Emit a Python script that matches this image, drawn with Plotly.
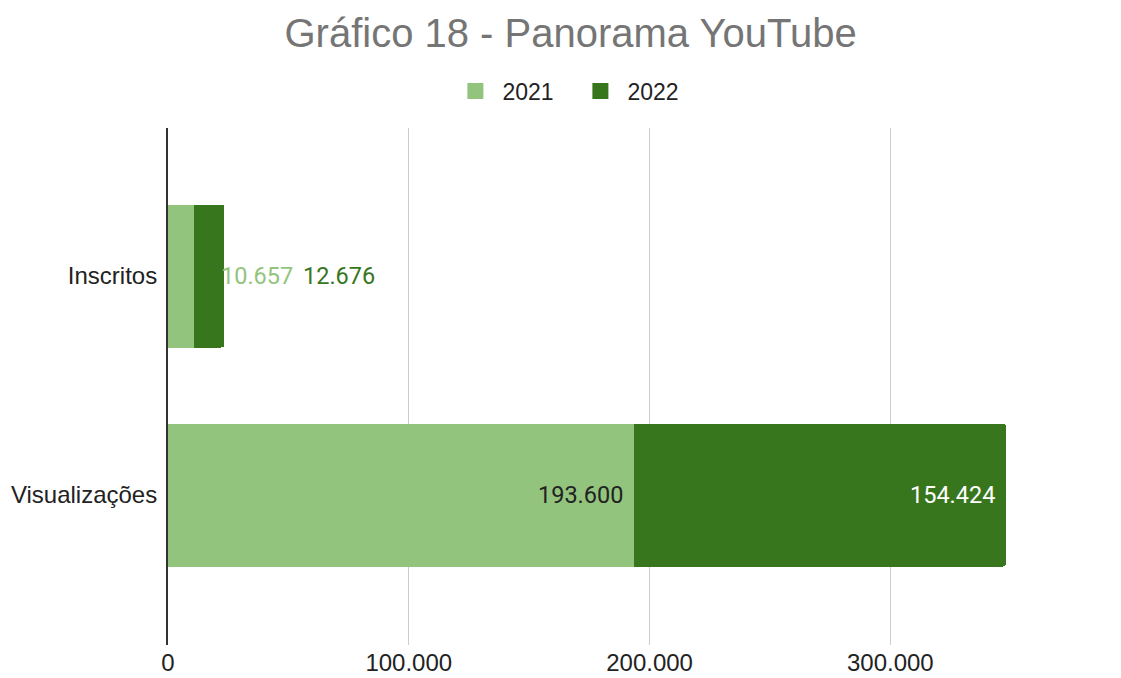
import plotly.graph_objects as go

categories = ["Inscritos", "Visualizações"]
years = ["2021", "2022"]
values_2021 = [10657, 193600]
values_2022 = [12676, 154424]
x_tick_vals = [0, 100000, 200000, 300000]
x_tick_text = ["0", "100.000", "200.000", "300.000"]

c2021 = "#93c47d"
c2022 = "#38761d"
LABEL_FONT = "Roboto"
AXIS_FONT = "Liberation Sans, Arial"

def fmt(v):
    return f"{v:,}".replace(",", ".")

fig = go.Figure()
fig.add_trace(go.Bar(y=categories, x=values_2021, name=years[0], orientation="h",
                     marker=dict(color=c2021, line=dict(width=0)), hoverinfo="skip",
                     showlegend=False))
fig.add_trace(go.Bar(y=categories, x=values_2022, name=years[1], orientation="h",
                     marker=dict(color=c2022, line=dict(width=0)), hoverinfo="skip",
                     showlegend=False))
# legend entries with larger square swatches
for name, col in zip(years, [c2021, c2022]):
    fig.add_trace(go.Scatter(x=[None], y=[None], mode="markers", name=name,
                             marker=dict(symbol="square", size=22, color=col),
                             hoverinfo="skip"))

annotations = []
tot0 = values_2021[0] + values_2022[0]
annotations.append(dict(x=tot0, y=categories[0], text=fmt(values_2021[0]), showarrow=False,
                        xanchor="left", xshift=-5, font=dict(color=c2021, size=23.5, family=LABEL_FONT)))
annotations.append(dict(x=tot0, y=categories[0], text=fmt(values_2022[0]), showarrow=False,
                        xanchor="left", xshift=77, font=dict(color=c2022, size=23.5, family=LABEL_FONT)))
annotations.append(dict(x=values_2021[1], y=categories[1], text=fmt(values_2021[1]), showarrow=False,
                        xanchor="right", xshift=-9, font=dict(color="#222222", size=23.5, family=LABEL_FONT)))
annotations.append(dict(x=values_2021[1] + values_2022[1], y=categories[1], text=fmt(values_2022[1]),
                        showarrow=False, xanchor="right", xshift=-9,
                        font=dict(color="#ffffff", size=23.5, family=LABEL_FONT)))

fig.update_layout(
    barmode="stack",
    bargap=0.347,
    barcornerradius=3,
    width=1121, height=678,
    margin=dict(l=168, r=26, t=128, b=33),
    paper_bgcolor="white", plot_bgcolor="white",
    font=dict(family=AXIS_FONT, size=24, color="#222222"),
    separators=",.",
    title=dict(text="Gráfico 18 - Panorama YouTube", x=0.509, xref="container", xanchor="center",
               y=1 - 33 / 678, yref="container", yanchor="middle",
               font=dict(family=AXIS_FONT, size=40, color="#757575")),
    legend=dict(orientation="h", xref="container", yref="container", x=0.5115, xanchor="center",
                y=1 - 91 / 678, yanchor="middle", font=dict(family=AXIS_FONT, size=23, color="#222222"),
                traceorder="normal", itemwidth=44, entrywidth=66),
    annotations=annotations,
    showlegend=True,
)
fig.update_xaxes(range=[0, 385000], tickvals=x_tick_vals, ticktext=x_tick_text,
                 showgrid=True, gridcolor="#cccccc", gridwidth=1, zeroline=False,
                 showline=False, ticks="", automargin=False, ticklabelstandoff=1,
                 tickfont=dict(family=AXIS_FONT, size=24, color="#222222"))
fig.update_yaxes(autorange=False, range=[1.685, -0.676], showline=True, linecolor="#333333",
                 linewidth=2, ticks="", automargin=False, ticklabelstandoff=4,
                 tickfont=dict(family=AXIS_FONT, size=24, color="#222222"), showgrid=False)

fig.write_html("out.html", config={"displayModeBar": False},
               post_script="document.body.style.margin='0';")
